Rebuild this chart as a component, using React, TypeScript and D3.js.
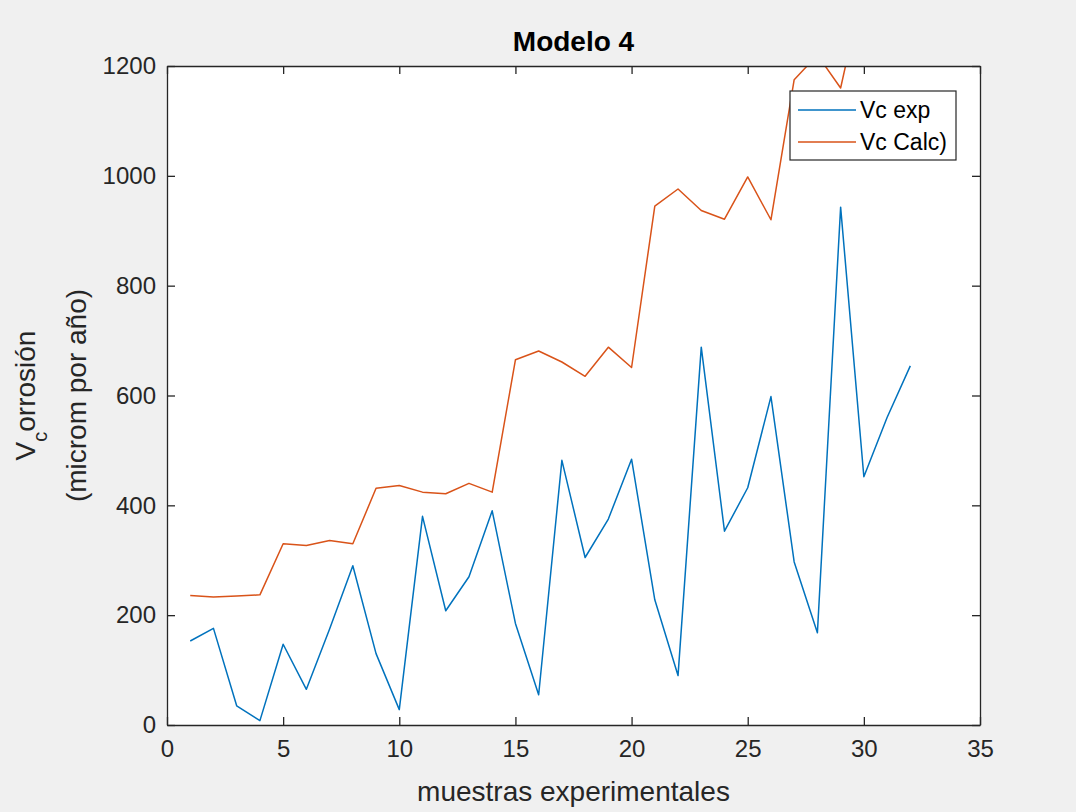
import React, { useEffect, useRef } from 'react';
import * as d3 from 'd3';

const muestras = d3.range(1, 33);
const vcExp = [153, 176, 35, 8, 147, 65, 175, 290, 130, 28, 380, 208, 270, 390, 185, 55,
  482, 305, 375, 484, 228, 90, 688, 353, 432, 598, 297, 168, 943, 452, 560, 654];
const vcCalc = [236, 233, 235, 237, 330, 327, 336, 330, 431, 436, 424, 421, 440, 424, 665, 681,
  661, 635, 688, 651, 945, 976, 937, 921, 998, 920, 1175, 1220, 1160, 1350, 1400, 1500];
const xTicks = [0, 5, 10, 15, 20, 25, 30, 35];
const yTicks = [0, 200, 400, 600, 800, 1000, 1200];
const series = [
  { name: 'Vc exp', values: vcExp, color: '#0072BD' },
  { name: 'Vc Calc)', values: vcCalc, color: '#D95319' },
];

const App = () => {
  const svgRef = useRef<SVGSVGElement>(null);

  useEffect(() => {
    const width = 1076;
    const height = 812;
    const margin = { top: 66, right: 96, bottom: 87, left: 167 };
    const svg = d3.select(svgRef.current);
    svg.selectAll('*').remove();

    svg.append('rect').attr('width', width).attr('height', height).attr('fill', '#f0f0f0');

    const x = d3.scaleLinear().domain([0, 35]).range([margin.left, width - margin.right]);
    const y = d3.scaleLinear().domain([0, 1200]).range([height - margin.bottom, margin.top]);

    svg.append('rect')
      .attr('x', x(0)).attr('y', y(1200))
      .attr('width', x(35) - x(0)).attr('height', y(0) - y(1200))
      .attr('fill', 'white');

    svg.append('clipPath').attr('id', 'plot-clip')
      .append('rect')
      .attr('x', x(0)).attr('y', y(1200))
      .attr('width', x(35) - x(0)).attr('height', y(0) - y(1200));

    const line = d3.line<number>()
      .x((d, i) => x(muestras[i]))
      .y(d => y(d));

    series.forEach(s => {
      svg.append('path')
        .datum(s.values)
        .attr('clip-path', 'url(#plot-clip)')
        .attr('fill', 'none')
        .attr('stroke', s.color)
        .attr('stroke-width', 1.5)
        .attr('stroke-linejoin', 'round')
        .attr('d', line);
    });

    const font = 'Liberation Sans, Arial, Helvetica, sans-serif';
    const axisColor = '#262626';
    const fmt = d3.format('d');

    // axes with inward ticks, box on all sides
    const xAxis = svg.append('g')
      .attr('transform', `translate(0,${y(0)})`)
      .call(d3.axisBottom(x).tickValues(xTicks).tickFormat(fmt).tickSizeInner(-8).tickSizeOuter(0).tickPadding(15));
    const yAxis = svg.append('g')
      .attr('transform', `translate(${x(0)},0)`)
      .call(d3.axisLeft(y).tickValues(yTicks).tickFormat(fmt).tickSizeInner(-8).tickSizeOuter(0).tickPadding(11));
    const xTop = svg.append('g')
      .attr('transform', `translate(0,${y(1200)})`)
      .call(d3.axisTop(x).tickValues(xTicks).tickSizeInner(-8).tickSizeOuter(0).tickFormat(() => ''));
    const yRight = svg.append('g')
      .attr('transform', `translate(${x(35)},0)`)
      .call(d3.axisRight(y).tickValues(yTicks).tickSizeInner(-8).tickSizeOuter(0).tickFormat(() => ''));

    [xAxis, yAxis, xTop, yRight].forEach(g => {
      g.select('.domain').attr('stroke', axisColor).attr('stroke-width', 1.3);
      g.selectAll('.tick line').attr('stroke', axisColor).attr('stroke-width', 1.3);
      g.selectAll('.tick text')
        .attr('fill', axisColor)
        .style('font-family', font)
        .style('font-size', '24px');
    });

    svg.append('text')
      .attr('x', (x(0) + x(35)) / 2).attr('y', 51)
      .attr('text-anchor', 'middle')
      .attr('fill', '#000')
      .style('font-family', font).style('font-size', '28px').style('font-weight', 'bold')
      .text('Modelo 4');

    svg.append('text')
      .attr('x', (x(0) + x(35)) / 2).attr('y', 801)
      .attr('text-anchor', 'middle')
      .attr('fill', axisColor)
      .style('font-family', font).style('font-size', '28px')
      .text('muestras experimentales');

    const yLab = svg.append('text')
      .attr('transform', `translate(0,${(y(0) + y(1200)) / 2}) rotate(-90)`)
      .attr('text-anchor', 'middle')
      .attr('fill', axisColor)
      .style('font-family', font).style('font-size', '28px');
    const line1 = yLab.append('tspan').attr('x', 0).attr('y', 35);
    line1.append('tspan').text('V');
    line1.append('tspan').attr('dy', 12).style('font-size', '20px').text('c');
    line1.append('tspan').attr('dy', -12).text('orrosión');
    yLab.append('tspan').attr('x', 0).attr('y', 86).text('(microm por año)');

    // legend
    const lg = svg.append('g').attr('transform', 'translate(790,91)');
    lg.append('rect').attr('width', 166).attr('height', 69)
      .attr('fill', 'white').attr('stroke', axisColor).attr('stroke-width', 1.2);
    series.forEach((s, i) => {
      const ly = 19 + i * 32;
      lg.append('line').attr('x1', 8).attr('x2', 66).attr('y1', ly).attr('y2', ly)
        .attr('stroke', s.color).attr('stroke-width', 1.5);
      lg.append('text').attr('x', 70).attr('y', ly + 8)
        .attr('fill', '#000')
        .style('font-family', font).style('font-size', '23px')
        .text(s.name);
    });
  }, []);

  return (
    <svg ref={svgRef} width={1076} height={812}
      style={{ position: 'absolute', left: 0, top: 0, display: 'block' }} />
  );
};

export default App;
